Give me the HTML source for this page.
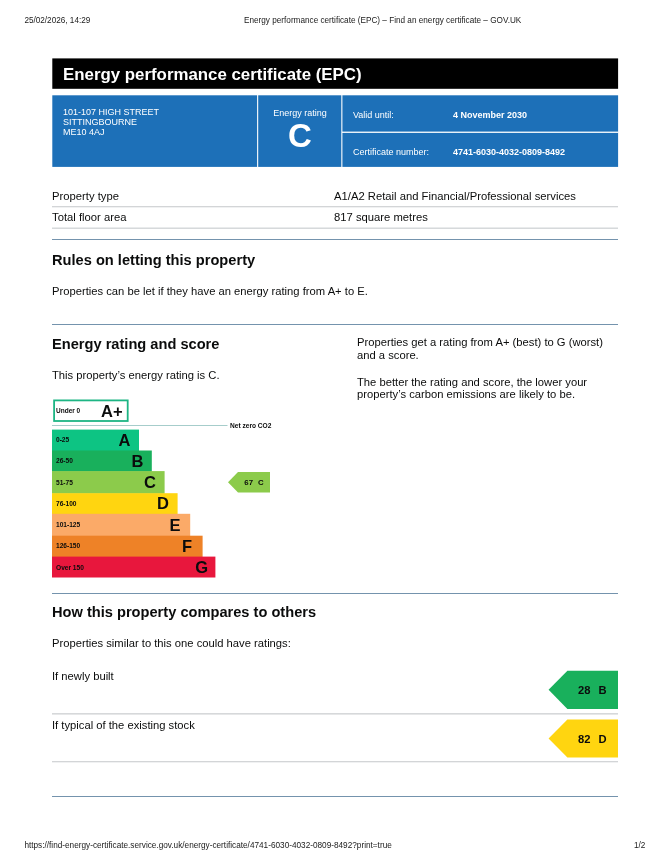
<!DOCTYPE html>
<html lang="en"><head><meta charset="utf-8">
<title>Energy performance certificate (EPC) – Find an energy certificate – GOV.UK</title>
<style>
*{box-sizing:border-box;margin:0;padding:0}
html,body{width:670px;height:865px;background:#fff;overflow:hidden}
body{font-family:"Liberation Sans",Arial,sans-serif;color:#0b0c0c;position:relative}
.abs{position:absolute;white-space:nowrap}
.hdr{font-size:8.2px;color:#1a1a1a;top:15px;line-height:9px}
.title{left:52px;top:58px;width:566px;height:31px;background:#000;color:#fff;font-weight:bold;font-size:16.85px;line-height:31px;padding-left:11px}
.blue{background:#1d70b8;color:#fff}
.small{font-size:9px;line-height:10px;color:#fff}
.row{left:52px;width:566px;font-size:11.25px;line-height:13px}
.hr{left:52px;width:566px;height:1px;background:#cfd2d5}
.bhr{left:52px;width:566px;height:1px;background:#7493ad}
h2{font-size:14.63px;font-weight:bold;line-height:17px}
.p{font-size:11.22px;line-height:12.7px}
</style></head><body>
<div class="abs hdr" style="left:24.4px;top:15.5px;font-size:8.18px">25/02/2026, 14:29</div>
<div class="abs hdr" style="left:244px;top:15.5px">Energy performance certificate (EPC) – Find an energy certificate – GOV.UK</div>

<svg class="abs" style="left:0;top:50px" width="670" height="125" viewBox="0 50 670 125">
  <rect x="52.3" y="58.4" width="565.8" height="30.4" fill="#000"/>
  <rect x="52.3" y="95.3" width="565.8" height="71.6" fill="#1d70b8"/>
  <rect x="257.1" y="95" width="1.1" height="72.2" fill="#fff"/>
  <rect x="341.3" y="95" width="1.1" height="72.2" fill="#fff"/>
  <rect x="342" y="131.6" width="276.4" height="1.3" fill="#fff"/>
</svg>
<div class="abs title" style="background:none;top:59px;line-height:31px;height:31px">Energy performance certificate (EPC)</div>

<div class="abs small" style="left:63px;top:107px">101-107 HIGH STREET<br>SITTINGBOURNE<br>ME10 4AJ</div>
<div class="abs small" style="left:259px;width:82px;text-align:center;top:107.5px">Energy rating</div>
<div class="abs" style="left:259px;width:82px;text-align:center;top:117.5px;color:#fff;font-weight:bold;font-size:33px;line-height:36px">C</div>
<div class="abs small" style="left:353px;top:110px">Valid until:</div>
<div class="abs small" style="left:453px;top:110px;font-weight:bold">4 November 2030</div>
<div class="abs small" style="left:353px;top:147px">Certificate number:</div>
<div class="abs small" style="left:453px;top:147px;font-weight:bold">4741-6030-4032-0809-8492</div>

<div class="abs row" style="top:190px">Property type</div>
<div class="abs row" style="top:190px;left:334px">A1/A2 Retail and Financial/Professional services</div>
<div class="abs hr" style="top:206px;height:2px;background:linear-gradient(#d3d5d7 50%,#f0f1f2 50%)"></div>
<div class="abs row" style="top:211px">Total floor area</div>
<div class="abs row" style="top:211px;left:334px">817 square metres</div>
<div class="abs hr" style="top:227px;height:2px;background:linear-gradient(#e9ebec 50%,#d6d9db 50%)"></div>

<div class="abs bhr" style="top:239px"></div>
<h2 class="abs" style="left:52px;top:251.5px">Rules on letting this property</h2>
<div class="abs p" style="left:52px;top:285px">Properties can be let if they have an energy rating from A+ to E.</div>

<div class="abs bhr" style="top:324px"></div>
<h2 class="abs" style="left:52px;top:336px">Energy rating and score</h2>
<div class="abs p" style="left:52px;top:369px">This property’s energy rating is C.</div>
<div class="abs p" style="left:357px;top:336px">Properties get a rating from A+ (best) to G (worst)<br>and a score.</div>
<div class="abs p" style="left:357px;top:375.5px">The better the rating and score, the lower your<br>property’s carbon emissions are likely to be.</div>

<svg class="abs" style="left:0;top:390px" width="340" height="200" viewBox="0 390 340 200" font-family="Liberation Sans, Arial, sans-serif" font-weight="bold">
  <rect x="54.1" y="400.4" width="73.6" height="20.6" fill="#fff" stroke="#1db584" stroke-width="1.8"/>
  <text x="56" y="413.2" font-size="6.5" fill="#0b0c0c">Under 0</text>
  <text x="101" y="416.8" font-size="16.5" fill="#0b0c0c">A+</text>
  <rect x="52" y="425" width="175.5" height="0.9" fill="#9cc8c6"/>
  <text x="230" y="427.7" font-size="6.6" fill="#0b0c0c">Net zero CO2</text>
  <rect x="52" y="429.6" width="87" height="21.5" fill="#0dc483"/>
  <rect x="52" y="450.5" width="99.8" height="21.2" fill="#19b05c"/>
  <rect x="52" y="471.1" width="112.6" height="22.6" fill="#8ccb4b"/>
  <rect x="52" y="493.2" width="125.6" height="21" fill="#ffd510"/>
  <rect x="52" y="513.8" width="138.2" height="22.4" fill="#fbaa68"/>
  <rect x="52" y="535.7" width="150.6" height="21.4" fill="#ee8227"/>
  <rect x="52" y="556.6" width="163.4" height="20.9" fill="#e8173d"/>
  <g font-size="6.6" fill="#0b0c0c">
    <text x="56" y="442">0-25</text>
    <text x="56" y="463">26-50</text>
    <text x="56" y="484.7">51-75</text>
    <text x="56" y="505.7">76-100</text>
    <text x="56" y="527.3">101-125</text>
    <text x="56" y="548.3">126-150</text>
    <text x="56" y="569.9">Over 150</text>
  </g>
  <g font-size="16.5" fill="#0b0c0c">
    <text x="118.5" y="445.7">A</text>
    <text x="131.5" y="466.7">B</text>
    <text x="144" y="487.9">C</text>
    <text x="156.9" y="509.3">D</text>
    <text x="169.5" y="530.7">E</text>
    <text x="182" y="551.8">F</text>
    <text x="195.2" y="572.9">G</text>
  </g>
  <polygon points="228,482.2 238,472 270,472 270,492.4 238,492.4" fill="#8ccb4b"/>
  <text x="244.3" y="485" font-size="7.8" fill="#0b0c0c">67</text>
  <text x="258" y="485" font-size="7.8" fill="#0b0c0c">C</text>
</svg>

<div class="abs bhr" style="top:593px"></div>
<h2 class="abs" style="left:52px;top:603.5px">How this property compares to others</h2>
<div class="abs p" style="left:52px;top:637px">Properties similar to this one could have ratings:</div>
<div class="abs p" style="left:52px;top:670px">If newly built</div>
<svg class="abs" style="left:540px;top:665px" width="90" height="100" viewBox="540 665 90 100" font-family="Liberation Sans, Arial, sans-serif" font-weight="bold">
  <polygon points="548.6,689.8 567.4,670.7 618,670.7 618,708.9 567.4,708.9" fill="#19b05c"/>
  <text x="578" y="694.4" font-size="11.2" fill="#0b0c0c">28</text>
  <text x="598.6" y="694.4" font-size="11.2" fill="#0b0c0c">B</text>
  <polygon points="548.6,738.5 567.4,719.4 618,719.4 618,757.6 567.4,757.6" fill="#ffd510"/>
  <text x="578" y="742.8" font-size="11.2" fill="#0b0c0c">82</text>
  <text x="598.6" y="742.8" font-size="11.2" fill="#0b0c0c">D</text>
</svg>
<div class="abs hr" style="top:713px;height:2px;background:linear-gradient(#d6d8da 50%,#e6e7e8 50%)"></div>
<div class="abs p" style="left:52px;top:718.6px">If typical of the existing stock</div>
<div class="abs hr" style="top:761px;height:2px;background:linear-gradient(#d3d5d7 50%,#f0f1f2 50%)"></div>
<div class="abs bhr" style="top:796px"></div>

<div class="abs hdr" style="left:24.4px;top:840.7px;font-size:8.23px">https://find-energy-certificate.service.gov.uk/energy-certificate/4741-6030-4032-0809-8492?print=true</div>
<div class="abs hdr" style="left:634px;top:840.7px">1/2</div>
</body></html>
